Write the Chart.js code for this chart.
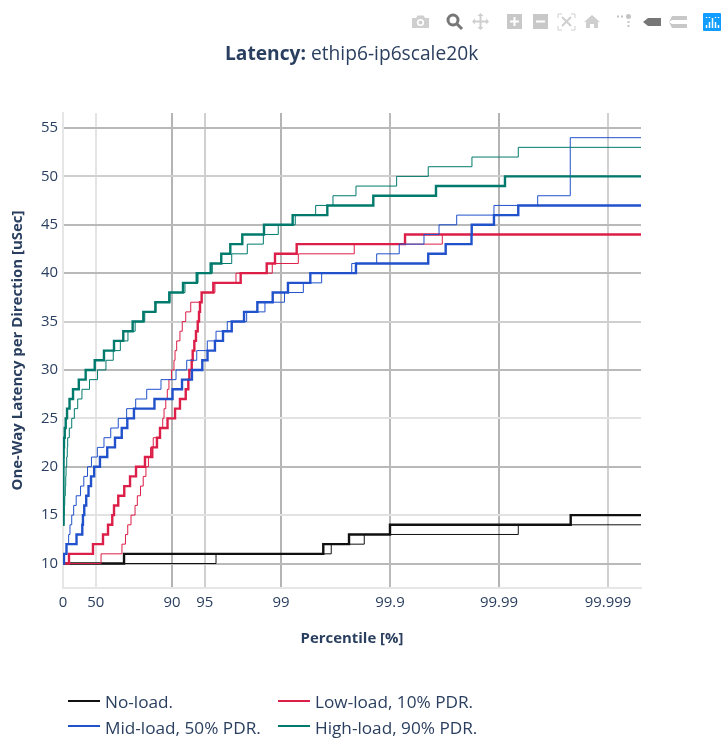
<!DOCTYPE html>
<html>
<head>
<meta charset="utf-8">
<title>Latency: ethip6-ip6scale20k</title>
<script src="https://cdn.jsdelivr.net/npm/chart.js@4"></script>
<style>
  html, body { margin: 0; padding: 0; background: #fff; }
  #wrap { position: relative; width: 723px; height: 738px; overflow: hidden; font-family: "Open Sans", sans-serif; color: #2a3f5f; }
  #myChart { position: absolute; left: 0; top: 0; }
  #title { position: absolute; left: 225px; top: 40px; font-size: 19.2px; line-height: 26px; white-space: nowrap; }
  .leg { position: absolute; font-size: 17.2px; line-height: 22px; white-space: nowrap; }
  .swatch { position: absolute; width: 32px; height: 2px; }
  #toolbar { position: absolute; left: 0; top: 0; }
</style>
</head>
<body>
<div id="wrap">
  <canvas id="myChart" width="723" height="738"></canvas>
  <div id="title"><b>Latency:</b> ethip6-ip6scale20k</div>
  <div id="legend"></div>
  <svg id="toolbar" width="723" height="40" xmlns="http://www.w3.org/2000/svg">
    <!-- camera -->
    <path d="M412 18h4l1.500-2.500h6l1.500 2.500h4v10h-17z" fill="#cfcfcf"/><circle cx="420.500" cy="22.500" r="3.600" fill="#fff"/><circle cx="420.500" cy="22.500" r="2" fill="#cfcfcf"/>
    <!-- zoom (active) -->
    <circle cx="453" cy="20" r="5" fill="none" stroke="#777" stroke-width="3"/><path d="M457 24l5 5" stroke="#777" stroke-width="3"/>
    <!-- pan -->
    <path d="M480.500 14v15M473 21.500h15" stroke="#cfcfcf" stroke-width="2"/><path d="M480.500 13l3 3h-6zM480.500 30l3-3h-6zM472 21.500l3-3v6zM489 21.500l-3-3v6z" fill="#cfcfcf"/>
    <!-- zoom in / out -->
    <rect x="507" y="14" width="15" height="15" fill="#c8c8c8"/><path d="M510 21.500h9M514.500 17v9" stroke="#fff" stroke-width="2"/>
    <rect x="533" y="14" width="15" height="15" fill="#c8c8c8"/><path d="M536 21.500h9" stroke="#fff" stroke-width="2"/>
    <!-- autoscale -->
    <path d="M558 18v-4h4M571 14h4v4M575 26v4h-4M562 30h-4v-4" fill="none" stroke="#cfcfcf" stroke-width="1"/><path d="M562 17l9 9M571 17l-9 9" stroke="#cfcfcf" stroke-width="2"/>
    <!-- home -->
    <path d="M592 15l8 7h-2v6h-4v-4h-4v4h-4v-6h-2z" fill="#cfcfcf"/>
    <!-- spike lines -->
    <circle cx="628.500" cy="16.500" r="2.500" fill="#c4c4c4"/><path d="M617 16.500h8M628.500 21v7" stroke="#c4c4c4" stroke-width="2" stroke-dasharray="2 2"/>
    <!-- closest / compare -->
    <path d="M643 22l5-4h13v8h-13z" fill="#777"/>
    <path d="M669 22l3-6h15v4h-15zM669 22l3 6h15v-4h-15z" fill="#c8c8c8"/>
    <!-- logo -->
    <rect x="703" y="13" width="18" height="18" rx="1" fill="#119dff"/>
    <path d="M706.500 25v3M709.500 22v6M712.500 18v10M715.500 22v6M718.500 25v3" stroke="#fff" stroke-width="1.500"/>
    <path d="M706.500 17v1M709.500 17v1M715.500 17v1M718.500 17v1" stroke="#fff" stroke-width="1.500"/>
  </svg>
</div>
<script>
// x values below are read in "nines": -log10(1 - percentile / 100)
const seriesNames = ['No-load.', 'Low-load, 10% PDR.', 'Mid-load, 50% PDR.', 'High-load, 90% PDR.'];
const percentileTicks = [0, 50, 90, 95, 99, 99.9, 99.99, 99.999];
const percentileLabels = ['0', '50', '90', '95', '99', '99.9', '99.99', '99.999'];
const latencyTicks = [10, 15, 20, 25, 30, 35, 40, 45, 50, 55];

const noLoadX1 = [0, 0.560, 2.388, 2.624, 3.000, 4.658, 5.303];
const noLoadY1 = [10, 11, 12, 13, 14, 15, 15];
const noLoadX2 = [0, 1.404, 2.461, 2.764, 4.177, 5.303];
const noLoadY2 = [10, 11, 12, 13, 14, 14];

const lowLoadX1 = [0, 0.055, 0.275, 0.367, 0.413, 0.452, 0.468, 0.507, 0.562, 0.615, 0.670, 0.752, 0.819, 0.862, 0.890, 0.959, 1.028, 1.073, 1.126, 1.150, 1.159, 1.181, 1.190, 1.205, 1.220, 1.236, 1.248, 1.257, 1.272, 1.379, 1.630, 1.869, 1.945, 2.144, 3.138, 5.303];
const lowLoadY1 = [10, 11, 12, 13, 14, 15, 16, 17, 18, 19, 20, 21, 22, 23, 24, 25, 26, 27, 28, 29, 30, 31, 32, 33, 34, 35, 36, 37, 38, 39, 40, 41, 42, 43, 44, 44];
const lowLoadX2 = [0, 0.349, 0.541, 0.573, 0.594, 0.624, 0.661, 0.682, 0.711, 0.736, 0.761, 0.784, 0.803, 0.828, 0.890, 0.915, 0.927, 0.943, 0.957, 0.972, 0.995, 1.018, 1.028, 1.043, 1.073, 1.094, 1.126, 1.172, 1.272, 1.394, 1.587, 1.920, 2.159, 2.672, 3.480, 5.303];
const lowLoadY2 = [10, 11, 12, 13, 14, 15, 16, 17, 18, 19, 20, 21, 22, 23, 24, 25, 26, 27, 28, 29, 30, 31, 32, 33, 34, 35, 36, 37, 38, 39, 40, 41, 42, 43, 44, 44];

const midLoadX1 = [0, 0.009, 0.032, 0.124, 0.177, 0.183, 0.195, 0.213, 0.234, 0.257, 0.286, 0.339, 0.406, 0.477, 0.539, 0.590, 0.651, 0.839, 1.005, 1.092, 1.183, 1.278, 1.326, 1.394, 1.468, 1.548, 1.661, 1.783, 1.924, 2.064, 2.269, 2.688, 3.351, 3.511, 3.748, 3.750, 3.954, 4.177, 5.303];
const midLoadY1 = [10, 11, 12, 13, 14, 15, 16, 17, 18, 19, 20, 21, 22, 23, 24, 25, 26, 27, 28, 29, 30, 31, 32, 33, 34, 35, 36, 37, 38, 39, 40, 41, 42, 43, 44, 45, 46, 47, 47];
const midLoadX2 = [0, 0.009, 0.032, 0.052, 0.064, 0.080, 0.098, 0.121, 0.161, 0.191, 0.225, 0.261, 0.315, 0.376, 0.438, 0.507, 0.584, 0.667, 0.768, 0.899, 1.037, 1.135, 1.227, 1.324, 1.404, 1.507, 1.685, 1.853, 2.032, 2.205, 2.373, 2.649, 2.878, 3.085, 3.312, 3.450, 3.612, 3.954, 4.355, 4.654, 5.303];
const midLoadY2 = [10, 11, 12, 13, 14, 15, 16, 17, 18, 19, 20, 21, 22, 23, 24, 25, 26, 27, 28, 29, 30, 31, 32, 33, 34, 35, 36, 37, 38, 39, 40, 41, 42, 43, 44, 45, 46, 47, 48, 54, 54];

const highLoadX1 = [0, 0.004, 0.005, 0.006, 0.009, 0.016, 0.025, 0.037, 0.060, 0.092, 0.145, 0.208, 0.291, 0.376, 0.468, 0.553, 0.639, 0.737, 0.847, 0.975, 1.101, 1.227, 1.355, 1.452, 1.535, 1.645, 1.844, 2.107, 2.425, 2.847, 3.422, 4.055, 5.303];
const highLoadY1 = [14, 20, 21, 22, 23, 24, 25, 26, 27, 28, 29, 30, 31, 32, 33, 34, 35, 36, 37, 38, 39, 40, 41, 42, 43, 44, 45, 46, 47, 48, 49, 50, 50];
const highLoadX2 = [0, 0.009, 0.012, 0.016, 0.021, 0.025, 0.028, 0.034, 0.039, 0.043, 0.058, 0.080, 0.104, 0.135, 0.174, 0.243, 0.317, 0.394, 0.461, 0.526, 0.596, 0.662, 0.750, 0.853, 0.982, 1.119, 1.239, 1.370, 1.548, 1.691, 1.838, 1.975, 2.131, 2.318, 2.477, 2.688, 3.061, 3.351, 3.752, 4.177, 5.303];
const highLoadY2 = [14, 15, 16, 17, 18, 19, 20, 21, 22, 23, 24, 25, 26, 27, 28, 29, 30, 31, 32, 33, 34, 35, 36, 37, 38, 39, 40, 41, 42, 43, 44, 45, 46, 47, 48, 49, 50, 51, 52, 53, 53];

const colors = ['#111111', '#dc1f48', '#2152cc', '#007a6c'];

function toNines(percentile) {
  return -Math.log10(1 - percentile / 100);
}

function zip(xs, ys) {
  return xs.map((x, i) => ({ x: x, y: ys[i] }));
}

function trace(name, color, xs, ys, width, order) {
  return {
    label: name,
    data: zip(xs, ys),
    borderColor: color,
    backgroundColor: color,
    borderWidth: width,
    stepped: 'before',
    pointRadius: 0,
    fill: false,
    borderJoinStyle: 'miter',
    borderCapStyle: 'butt',
    order: order
  };
}

// grid lines look heavier or lighter from one tick to the next in the original
function yGridColor(value) {
  if (value === 50 || value === 35) return '#cfcfcf';
  if (value === 25 || value === 15) return '#e2e2e2';
  return '#b9b9b9';
}

function xGridColor(index) {
  if (index === 0) return 'rgba(0,0,0,0)';
  if (index === 1) return '#e4e4e4';
  if (index === 2 || index === 4 || index === 6) return '#b4b4b4';
  if (index === 5) return '#bababa';
  return '#d0d0d0';
}

function buildLegend() {
  const slots = [[68, 105, 700, 691], [278, 315, 700, 691], [68, 105, 725, 717], [278, 315, 725, 717]];
  const box = document.getElementById('legend');
  seriesNames.forEach((name, i) => {
    const line = document.createElement('div');
    line.className = 'swatch';
    line.style.left = slots[i][0] + 'px';
    line.style.top = slots[i][2] + 'px';
    line.style.background = colors[i];
    box.appendChild(line);
    const text = document.createElement('div');
    text.className = 'leg';
    text.style.left = slots[i][1] + 'px';
    text.style.top = slots[i][3] + 'px';
    text.textContent = name;
    box.appendChild(text);
  });
}

document.addEventListener('DOMContentLoaded', function () {
  buildLegend();

  const datasets = [
    trace(seriesNames[0], colors[0], noLoadX1, noLoadY1, 2.4, 8),
    trace(seriesNames[0], colors[0], noLoadX2, noLoadY2, 1, 7),
    trace(seriesNames[1], colors[1], lowLoadX1, lowLoadY1, 2.4, 6),
    trace(seriesNames[1], colors[1], lowLoadX2, lowLoadY2, 1, 5),
    trace(seriesNames[2], colors[2], midLoadX1, midLoadY1, 2.4, 4),
    trace(seriesNames[2], colors[2], midLoadX2, midLoadY2, 1, 3),
    trace(seriesNames[3], colors[3], highLoadX1, highLoadY1, 2.4, 2),
    trace(seriesNames[3], colors[3], highLoadX2, highLoadY2, 1, 1)
  ];

  const ctx = document.getElementById('myChart');
  new Chart(ctx, {
    type: 'line',
    data: { datasets },
    options: {
      responsive: false,
      animation: false,
      layout: { padding: { top: 113, right: 82, left: 0, bottom: 90 } },
      plugins: { legend: { display: false }, title: { display: false }, tooltip: { enabled: false } },
      font: { family: '"Open Sans", sans-serif' },
      scales: {
        x: {
          type: 'linear',
          min: 0,
          max: 5.303,
          afterBuildTicks: function (scale) {
            scale.ticks = percentileTicks.map(p => ({ value: toNines(p) }));
          },
          afterFit: function (scale) { scale.height = 60; },
          grid: {
            color: c => xGridColor(c.index),
            lineWidth: 2,
            drawTicks: false
          },
          border: { color: '#e6e6e6', width: 2 },
          ticks: {
            autoSkip: false,
            maxRotation: 0,
            padding: 6,
            color: '#2a3f5f',
            font: { family: '"Open Sans", sans-serif', size: 14.93 },
            callback: function (value, index) { return percentileLabels[index]; }
          },
          title: {
            display: true,
            text: 'Percentile [%]',
            color: '#2a3f5f',
            font: { family: '"Open Sans", sans-serif', size: 14.93, weight: 'bold' },
            padding: 0
          }
        },
        y: {
          type: 'linear',
          min: 7.47,
          max: 56.55,
          afterBuildTicks: function (scale) {
            scale.ticks = latencyTicks.map(v => ({ value: v }));
          },
          afterFit: function (scale) { scale.width = 63; },
          grid: {
            color: c => yGridColor(c.tick.value),
            lineWidth: 2,
            drawTicks: false
          },
          border: { color: '#e6e6e6', width: 2 },
          ticks: {
            autoSkip: false,
            padding: 5,
            color: '#2a3f5f',
            font: { family: '"Open Sans", sans-serif', size: 14.93 }
          },
          title: {
            display: true,
            text: 'One-Way Latency per Direction [uSec]',
            color: '#2a3f5f',
            font: { family: '"Open Sans", sans-serif', size: 14.93, weight: 'bold' },
            padding: 9
          }
        }
      }
    }
  });
});
</script>
</body>
</html>
